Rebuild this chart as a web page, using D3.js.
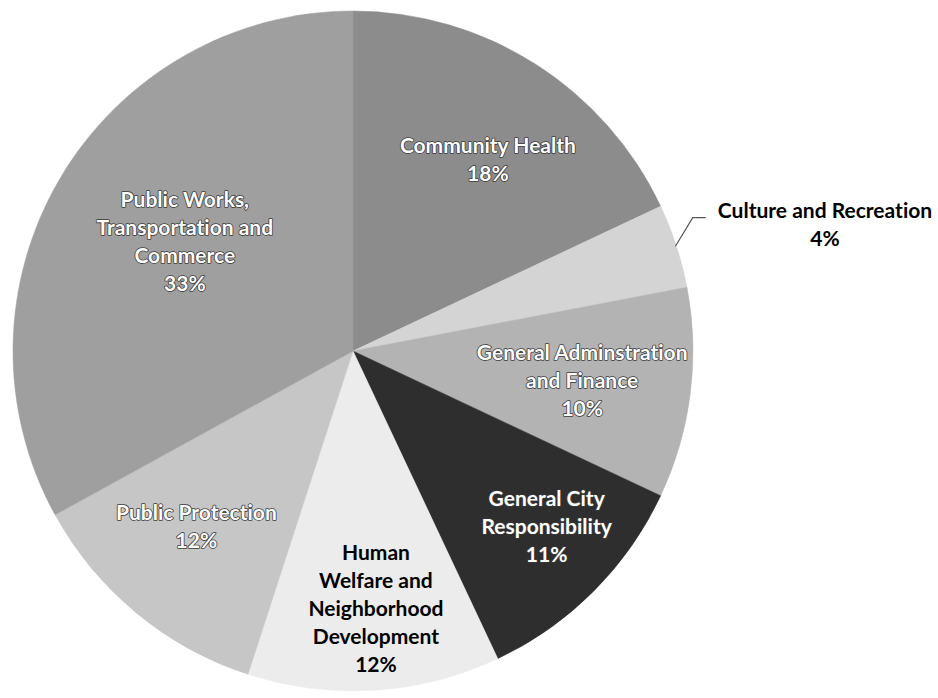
<!DOCTYPE html>
<html>
<head>
<meta charset="utf-8">
<script src="https://cdn.jsdelivr.net/npm/d3@7"></script>
<style>
  html, body { margin: 0; padding: 0; background: #fff; }
  svg { display: block; }
  text { font-variant-ligatures: none; font-feature-settings: "liga" 0, "clig" 0; }
</style>
</head>
<body>
<svg id="chart" width="938" height="698"></svg>
<script>
// ---- data ----
const categories = [
  "Community Health",
  "Culture and Recreation",
  "General Adminstration and Finance",
  "General City Responsibility",
  "Human Welfare and Neighborhood Development",
  "Public Protection",
  "Public Works, Transportation and Commerce"
];
const values = [18, 4, 10, 11, 12, 12, 33];
const valueLabels = ["18%", "4%", "10%", "11%", "12%", "12%", "33%"];
const labelLines = [
  ["Community Health"],
  ["Culture and Recreation"],
  ["General Adminstration", "and Finance"],
  ["General City", "Responsibility"],
  ["Human", "Welfare and", "Neighborhood", "Development"],
  ["Public Protection"],
  ["Public Works,", "Transportation and", "Commerce"]
];

// ---- styles / layout ----
const sliceColors = ["#8c8c8c", "#d4d4d4", "#b3b3b3", "#2e2e2e", "#ececec", "#c6c6c6", "#9f9f9f"];
const textColors  = ["#ffffff", "#000000", "#ffffff", "#ffffff", "#000000", "#ffffff", "#ffffff"];
// label placement: radius (px) and angular nudge (deg) relative to slice mid-angle
const labelPlace = [
  {r: 234, da: 2.8},
  null,
  {r: 231, da: 0},
  {r: 261, da: -2.9},
  {r: 258, da: -1.5},
  {r: 235, da: 2.2},
  {r: 201, da: 2.6}
];
const cx = 353, cy = 351, R = 340;
const fontSize = 21, lineH = 28;

const svg = d3.select("#chart");
const g = svg.append("g").attr("transform", `translate(${cx},${cy})`);

const pie = d3.pie().sort(null).value(d => d.v).startAngle(0).endAngle(2 * Math.PI);
const rows = categories.map((c, i) => ({c, v: values[i], i}));
const arcs = pie(rows);
const arc = d3.arc().innerRadius(0).outerRadius(R);

g.selectAll("path.slice").data(arcs).enter().append("path")
  .attr("class", "slice")
  .attr("d", arc)
  .attr("fill", d => sliceColors[d.data.i])
  .attr("stroke", d => sliceColors[d.data.i])
  .attr("stroke-width", 0.5);

function polar(angle, r) {
  return [r * Math.sin(angle), -r * Math.cos(angle)];
}

arcs.forEach(d => {
  const i = d.data.i;
  const mid = (d.startAngle + d.endAngle) / 2;
  const lines = labelLines[i].concat([valueLabels[i]]);
  let x, y;
  if (labelPlace[i]) {
    const p = polar(mid + labelPlace[i].da * Math.PI / 180, labelPlace[i].r);
    x = p[0]; y = p[1];
  } else {
    // outside label with leader line
    const e = polar(mid, R - 1);
    const k = polar(mid - 0.06, R + 25);
    const lx = k[0] + 13;
    g.append("polyline")
      .attr("points", [[e[0], e[1]], [k[0], k[1]], [lx, k[1]]].map(p => p.join(",")).join(" "))
      .attr("fill", "none").attr("stroke", "#555").attr("stroke-width", 1.2);
    x = 472; y = k[1] + 7;
  }
  const t = g.append("text")
    .attr("text-anchor", "middle")
    .attr("font-family", "Lato, 'Open Sans', sans-serif")
    .attr("font-weight", "bold")
    .attr("font-size", fontSize)
    .attr("fill", textColors[i]);
  if (textColors[i] === "#ffffff") {
    t.attr("stroke", "#3a3a3a").attr("stroke-width", 1.6).attr("paint-order", "stroke")
     .attr("stroke-linejoin", "round");
  }
  const n = lines.length;
  lines.forEach((ln, j) => {
    t.append("tspan")
      .attr("x", x)
      .attr("y", y + (j - (n - 1) / 2) * lineH)
      .attr("dy", "0.36em")
      .text(ln);
  });
});
</script>
</body>
</html>
